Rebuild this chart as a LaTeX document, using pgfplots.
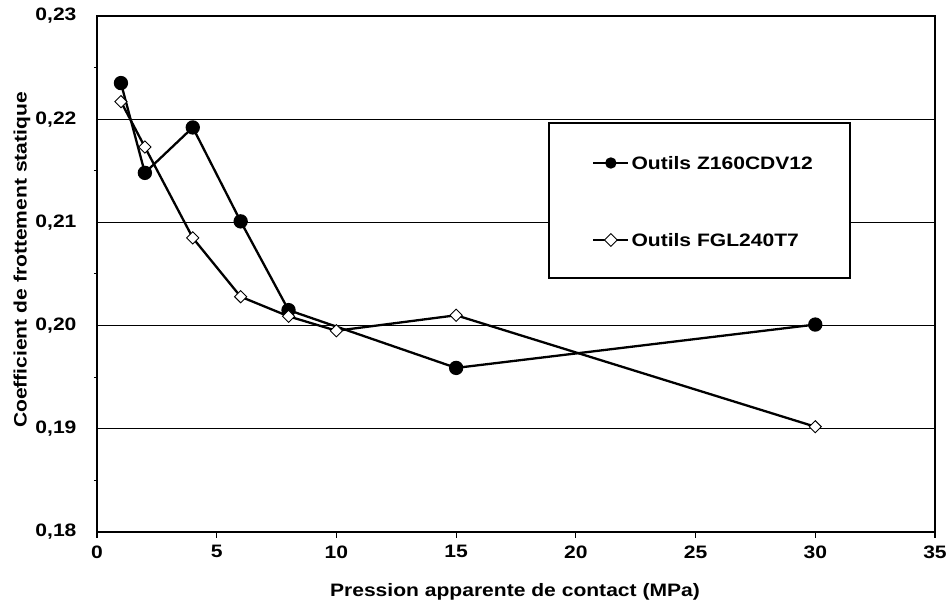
\documentclass[border=0pt]{standalone}
\usepackage{fontspec}
\setmainfont{Liberation Sans}[FakeStretch=1.17]
\usepackage{pgfplots}
\pgfplotsset{compat=1.18}
\begin{document}
\begin{tikzpicture}
\begin{axis}[
  width=838pt, height=516pt, scale only axis,
  xmin=0, xmax=35, ymin=0.18, ymax=0.23,
  xtick={0,5,...,35},
  ytick={0.18,0.19,0.20,0.21,0.22,0.23},
  minor ytick={0.185,0.195,0.205,0.215,0.225},
  xtick pos=bottom, ytick pos=left,
  tick align=outside,
  major tick length=6pt, minor tick length=3pt,
  xtick style={line width=1.2pt, black},
  ytick style={line width=1pt, black},
  major y tick style={draw=none},
  ymajorgrids,
  grid style={line width=1.3pt, black},
  axis line style={line width=1.5pt, black},
  font=\fontsize{18}{21}\selectfont\bfseries,
  /pgf/number format/assume math mode=true,
  yticklabel style={/pgf/number format/.cd, fixed, fixed zerofill, precision=2, use comma, /tikz/.cd, xshift=-11pt},
  xticklabel style={yshift=-4pt},
  scaled y ticks=false,
  xlabel={Pression apparente de contact (MPa)},
  ylabel={Coefficient de frottement statique},
  xlabel style={at={(axis description cs:0.4988,-0.1163)}, anchor=center},
  ylabel style={at={(axis description cs:-0.0895,0.527)}, anchor=center},
  legend style={draw=none, fill=none, at={(0.5907,0.6405)}, anchor=west,
    inner sep=0pt, row sep=60pt, font=\fontsize{18}{21}\selectfont\bfseries,
    nodes={text height=13pt, text depth=0pt, inner sep=2pt}},
  legend cell align=left,
  legend image code/.code={\draw[mark repeat=2,mark phase=2, mark size=4.5pt] plot coordinates {(0pt,0pt) (17.5pt,0pt) (35pt,0pt)};},
]
\draw[fill=white, line width=1.3pt] (rel axis cs:0.5394,0.4922) rectangle (rel axis cs:0.8986,0.7926);
\addplot[black, line width=2.3pt, mark=*, mark size=6pt, mark options={fill=black}]
  coordinates {(1,0.2235) (2,0.2148) (4,0.2192) (6,0.2101) (8,0.2015) (15,0.1959) (30,0.2001)};
\addlegendentry{Outils Z160CDV12}
\addplot[black, line width=2.3pt, mark=square*, mark size=4.3pt, mark options={fill=white, line width=0.9pt, rotate=45}]
  coordinates {(1,0.2217) (2,0.2173) (4,0.2085) (6,0.2028) (8,0.2009) (10,0.1995) (15,0.2010) (30,0.1902)};
\addlegendentry{Outils FGL240T7}
\end{axis}
\pgfresetboundingbox
\useasboundingbox (-97pt,-78pt) rectangle (849pt,532pt);
\end{tikzpicture}
\end{document}
